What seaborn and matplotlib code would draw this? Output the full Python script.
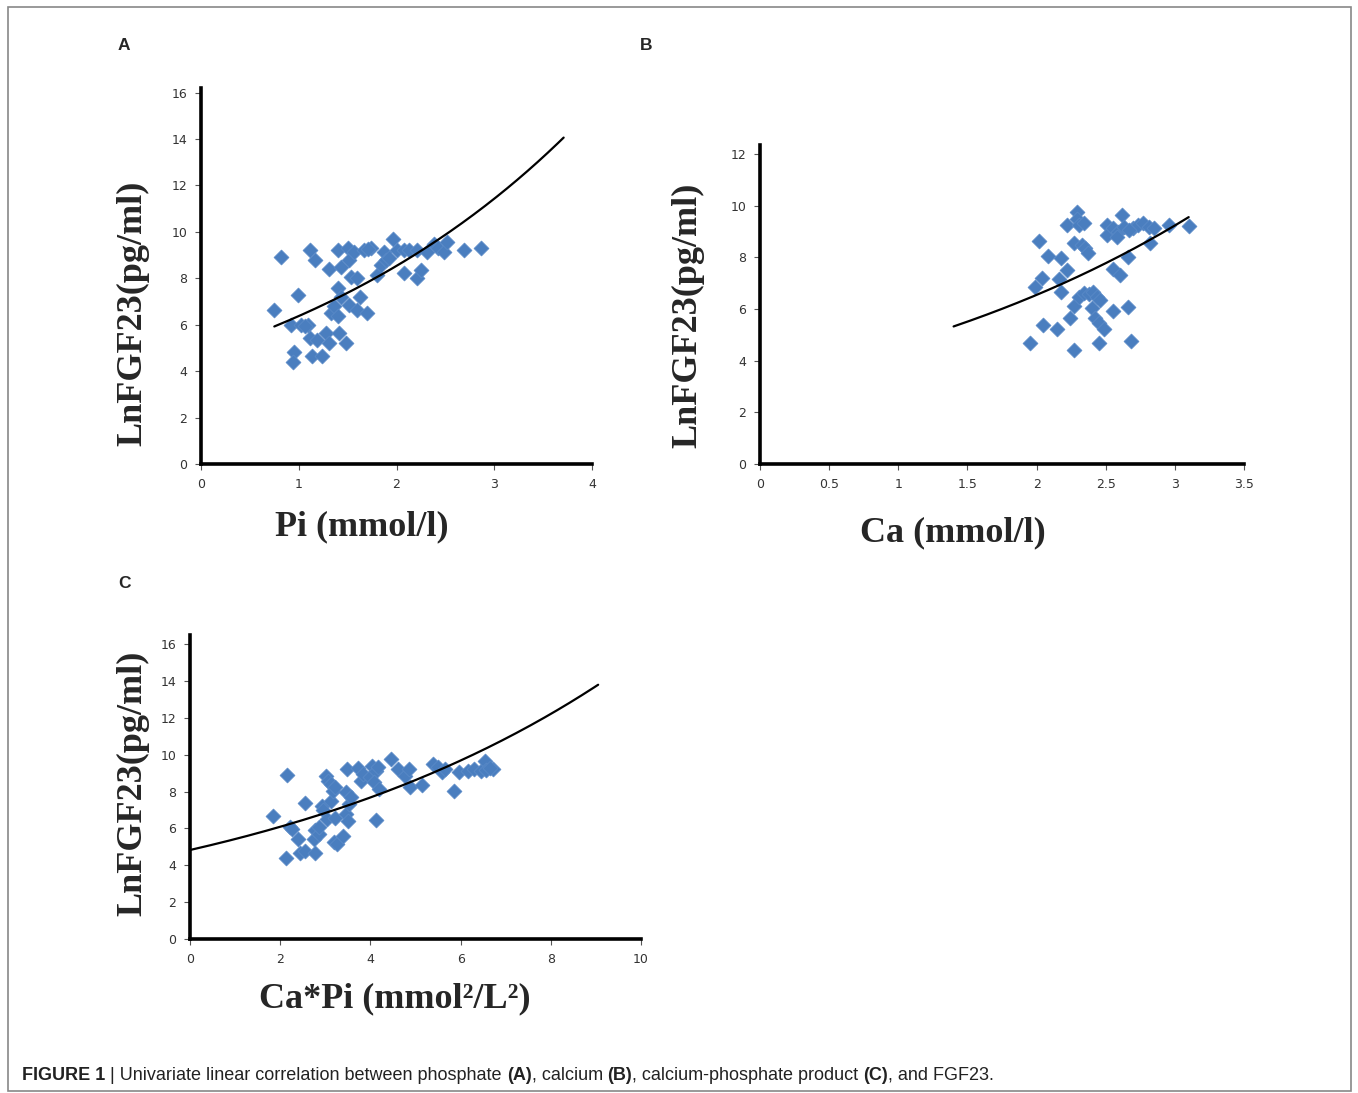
import numpy as np
import pandas as pd
import matplotlib
matplotlib.use("Agg")
import matplotlib.pyplot as plt
from matplotlib.patches import Rectangle
import seaborn as sns

# panel A: phosphate vs LnFGF23
pi_x = [0.75, 0.82, 0.99, 0.92, 1.02, 1.09, 1.06, 0.95, 0.94, 1.12, 1.17, 1.12, 1.19, 1.14, 1.24,
        1.28, 1.31, 1.31, 1.33, 1.36, 1.40, 1.41, 1.48, 1.40, 1.43, 1.43, 1.40, 1.50, 1.51, 1.57,
        1.53, 1.60, 1.51, 1.60, 1.63, 1.70, 1.67, 1.74, 1.71, 1.80, 1.84, 1.87, 1.89, 1.92, 1.96,
        2.01, 2.08, 2.08, 2.13, 2.21, 2.21, 2.25, 2.31, 2.38, 2.42, 2.49, 2.52, 2.69, 2.86]
pi_y = [6.64, 8.90, 7.29, 6.00, 6.00, 6.00, 5.95, 4.81, 4.39, 9.24, 8.79, 5.43, 5.36, 4.64, 4.67,
        5.64, 5.21, 8.39, 6.50, 6.79, 6.36, 5.64, 5.21, 7.57, 7.21, 8.50, 9.21, 9.29, 8.79, 9.14,
        8.07, 8.00, 6.86, 6.64, 7.21, 6.50, 9.21, 9.29, 9.25, 8.14, 8.57, 9.14, 8.79, 8.86, 9.71,
        9.21, 9.21, 8.21, 9.21, 9.21, 8.00, 8.36, 9.14, 9.50, 9.29, 9.14, 9.57, 9.21, 9.29]

# panel B: calcium vs LnFGF23
ca_x = [1.95, 1.99, 2.02, 2.04, 2.05, 2.08, 2.15, 2.16, 2.18, 2.18, 2.22, 2.22, 2.24, 2.27, 2.27,
        2.27, 2.29, 2.29, 2.31, 2.34, 2.33, 2.35, 2.37, 2.31, 2.34, 2.38, 2.40, 2.41, 2.44, 2.46,
        2.42, 2.45, 2.49, 2.45, 2.51, 2.51, 2.55, 2.55, 2.55, 2.59, 2.60, 2.62, 2.63, 2.66, 2.66,
        2.68, 2.70, 2.73, 2.77, 2.81, 2.82, 2.85, 2.96, 3.10, 2.58, 2.67]
ca_y = [4.68, 6.84, 8.65, 7.21, 5.40, 8.05, 5.23, 7.15, 7.96, 6.64, 7.51, 9.25, 5.64, 4.42, 6.10,
        8.54, 9.77, 9.47, 9.25, 9.32, 8.47, 8.35, 8.16, 6.48, 6.61, 6.59, 6.03, 6.64, 6.48, 6.35,
        5.64, 5.45, 5.22, 4.68, 9.25, 8.87, 9.12, 7.54, 5.94, 9.00, 7.32, 9.64, 9.19, 8.03, 6.07,
        4.78, 9.12, 9.25, 9.34, 9.19, 8.54, 9.12, 9.25, 9.23, 8.80, 9.06]

# panel C: Ca*Pi product vs LnFGF23
capi_x = [1.83, 2.16, 2.13, 2.21, 2.26, 2.40, 2.45, 2.56, 2.56, 2.78, 2.74, 2.78, 2.86, 2.87, 2.92,
          2.94, 3.02, 3.05, 3.03, 3.13, 3.13, 3.17, 3.21, 3.19, 3.25, 3.21, 3.39, 3.45, 3.47, 3.51,
          3.53, 3.57, 3.49, 3.73, 3.80, 3.84, 4.00, 4.04, 4.12, 4.08, 4.18, 4.12, 4.16, 4.45, 4.61,
          4.77, 4.85, 4.87, 5.15, 5.38, 5.50, 5.58, 5.66, 5.86, 5.97, 6.17, 6.29, 6.45, 6.55, 6.57,
          6.71, 6.65]
capi_y = [6.65, 8.91, 4.39, 6.06, 5.97, 5.42, 4.65, 7.36, 4.76, 4.65, 5.42, 5.91, 5.70, 6.06, 7.23,
          7.00, 8.86, 8.59, 6.51, 7.50, 8.41, 8.05, 6.56, 5.24, 5.15, 8.23, 5.57, 7.96, 6.78, 6.38,
          7.32, 7.69, 9.22, 9.28, 8.59, 8.95, 8.77, 9.40, 9.13, 8.50, 8.14, 6.46, 9.31, 9.76, 9.22,
          8.86, 9.22, 8.23, 8.37, 9.49, 9.31, 9.04, 9.22, 8.01, 9.08, 9.13, 9.22, 9.13, 9.67, 9.17,
          9.22, 9.28]

# exponential trendlines y = a*exp(b*x)
trend_a = [4.76, 3.29, 4.83]
trend_b = [0.292, 0.344, 0.116]
trend_range = [(0.75, 3.71), (1.40, 3.10), (0.0, 9.05)]

x_labels = ["Pi (mmol/l)", "Ca (mmol/l)", "Ca*Pi (mmol\u00b2/L\u00b2)"]
y_label = "LnFGF23(pg/ml)"
panel_names = ["A", "B", "C"]
xticks = [np.arange(0, 5, 1), np.arange(0, 4.0, 0.5), np.arange(0, 12, 2)]
yticks = [np.arange(0, 18, 2), np.arange(0, 14, 2), np.arange(0, 18, 2)]
xlims = [(0, 4), (0, 3.5), (0, 10)]
ylims = [(0, 16.2), (0, 12.35), (0, 16.5)]

caption = [("FIGURE 1", "bold"), (" | Univariate linear correlation between phosphate ", "normal"),
           ("(A)", "bold"), (", calcium ", "normal"), ("(B)", "bold"),
           (", calcium-phosphate product ", "normal"), ("(C)", "bold"), (", and FGF23.", "normal")]

sns.set_style("white")

W, H = 1358, 1093
fig = plt.figure(figsize=(W / 100, H / 100), dpi=100)


def px(l, t, r, b):
    # pixel box (left, top, right, bottom) -> figure fractions
    return [l / W, 1 - b / H, (r - l) / W, (b - t) / H]


boxes = [px(201, 88, 592, 464), px(760, 145, 1244, 464), px(190, 635, 641, 939)]
xs = [pi_x, ca_x, capi_x]
ys = [pi_y, ca_y, capi_y]
ylab_pos = [(133, 313), (688, 315), (133, 783)]
xlab_pos = [(362, 527), (953, 533), (395, 999)]
letter_pos = [(118, 45), (640, 45), (118, 584)]

for i in range(3):
    ax = fig.add_axes(boxes[i])
    df = pd.DataFrame({"x": xs[i], "y": ys[i]})
    sns.scatterplot(data=df, x="x", y="y", ax=ax, marker="D", s=58,
                    color="#4a7ebf", edgecolor="#5b8bc8", linewidth=0.5, zorder=3)
    x0, x1 = trend_range[i]
    tx = np.linspace(x0, x1, 200)
    sns.lineplot(x=tx, y=trend_a[i] * np.exp(trend_b[i] * tx), ax=ax,
                 color="black", linewidth=1.6, zorder=4)
    ax.set_xlim(xlims[i])
    ax.set_ylim(ylims[i])
    ax.set_xticks(xticks[i])
    ax.set_yticks(yticks[i])
    ax.set_xticklabels([f"{v:g}" for v in xticks[i]])
    ax.set_yticklabels([f"{v:g}" for v in yticks[i]])
    ax.set_xlabel("")
    ax.set_ylabel("")
    for s in ["top", "right"]:
        ax.spines[s].set_visible(False)
    for s in ["left", "bottom"]:
        ax.spines[s].set_linewidth(2.6)
        ax.spines[s].set_color("black")
    ax.tick_params(axis="both", which="major", direction="out", length=4, width=0.8,
                   color="#555555", labelsize=9, labelcolor="#333333", pad=6,
                   left=True, bottom=True)

    fig.text(ylab_pos[i][0] / W, 1 - ylab_pos[i][1] / H, y_label, rotation=90,
             ha="center", va="center", fontsize=26, fontweight="bold",
             family="Liberation Serif")
    fig.text(xlab_pos[i][0] / W, 1 - xlab_pos[i][1] / H, x_labels[i],
             ha="center", va="center", fontsize=26, fontweight="bold",
             family="Liberation Serif")
    fig.text(letter_pos[i][0] / W, 1 - letter_pos[i][1] / H, panel_names[i],
             ha="left", va="center", fontsize=12.5, fontweight="bold",
             family="Liberation Sans")

# caption: each piece placed right after the previous one
prev = fig.text(22 / W, 1 - 1084 / H, caption[0][0], fontsize=13, fontweight=caption[0][1],
                family="Liberation Sans", ha="left", va="bottom", color="#222222")
for txt, wt in caption[1:]:
    prev = fig.get_axes()[0].annotate(txt, xy=(1, 0), xycoords=prev, va="bottom", ha="left",
                                      fontsize=13, fontweight=wt, family="Liberation Sans",
                                      color="#222222", annotation_clip=False)

# outer frame
fig.add_artist(Rectangle((8 / W, 1 - 1091 / H), 1343 / W, 1084 / H, transform=fig.transFigure,
                         fill=False, edgecolor="#888888", linewidth=1.2))

fig.savefig("out.png", dpi=100)
